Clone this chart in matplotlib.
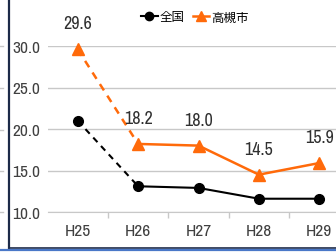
import matplotlib
matplotlib.use("Agg")
import matplotlib.pyplot as plt
from matplotlib.lines import Line2D

years = ["H25", "H26", "H27", "H28", "H29"]
zenkoku = [21.0, 13.1, 12.9, 11.6, 11.6]
takatsuki = [29.6, 18.2, 18.0, 14.5, 15.9]
yticks = [10.0, 15.0, 20.0, 25.0, 30.0]

plt.rcParams["font.family"] = ["Archivo Narrow", "DejaVu Sans", "Noto Sans CJK JP"]

ORANGE = "#ff6a0a"
W, H = 336, 253
fig = plt.figure(figsize=(W / 100, H / 100), dpi=100)
ax = fig.add_axes([47.5 / W, (H - 213) / H, 302 / W, 166 / H])

x = list(range(len(years)))
# dashed first segment, solid afterwards
ax.plot(x[:2], zenkoku[:2], color="black", lw=1.5, ls=(0, (3, 2.5)), clip_on=False)
ax.plot(x[1:], zenkoku[1:], color="black", lw=1.5, clip_on=False)
ax.plot(x, zenkoku, ls="none", marker="o", ms=7, color="black", clip_on=False, zorder=4)
ax.plot(x[:2], takatsuki[:2], color=ORANGE, lw=1.8, ls=(0, (3, 2.5)), clip_on=False)
ax.plot(x[1:], takatsuki[1:], color=ORANGE, lw=1.8, clip_on=False)
ax.plot(x, takatsuki, ls="none", marker="^", ms=9, color=ORANGE, clip_on=False, zorder=4)

for xi, v in zip(x, takatsuki):
    ax.annotate(f"{v:.1f}", (xi, v), xytext=(0, 13), textcoords="offset points",
                ha="center", va="bottom", fontsize=13, color="#303030")

ax.set_xlim(-0.5, 4.5)
ax.set_ylim(10, 30)
ax.set_yticks(yticks, [f"{t:.1f}" for t in yticks])
ax.set_xticks(x, years)
ax.set_xticks([0.5, 1.5, 2.5, 3.5], minor=True)
ax.tick_params(axis="y", length=0, pad=5, labelsize=12.5, labelcolor="#404040")
ax.tick_params(axis="x", which="major", length=0, pad=8, labelsize=12.5, labelcolor="#404040")
ax.tick_params(axis="x", which="minor", length=4, color="#c8c8c8", width=1)
ax.grid(axis="y", color="#c8c8c8", lw=1)
for s in ("top", "right", "left"):
    ax.spines[s].set_visible(False)
ax.spines["bottom"].set_color("#c8c8c8")
ax.set_axisbelow(True)

handles = [Line2D([], [], color="black", lw=1.5, marker="o", ms=6),
           Line2D([], [], color=ORANGE, lw=1.8, marker="^", ms=7)]
fig.legend(handles, ["全国", "高槻市"], loc="center left",
           bbox_to_anchor=(130 / W, 1 - 18 / H), ncol=2, frameon=False,
           handlelength=1.3, handletextpad=0.2, columnspacing=0.6,
           prop={"family": ["Noto Sans CJK JP", "DejaVu Sans"], "size": 9})

# screenshot frame remnants
fig.add_artist(Line2D([8.5 / W, 8.5 / W], [3 / H, 1], color="#1c2a48", lw=1.6))
fig.add_artist(Line2D([8.5 / W, 1], [4.5 / H, 4.5 / H], color="#1c2a48", lw=1.2))
fig.add_artist(Line2D([0, 1], [2.5 / H, 2.5 / H], color="#4a78c8", lw=1.6))
for yp in (47, 89, 131, 172, 213):
    fig.add_artist(Line2D([0, 3 / W], [1 - yp / H, 1 - yp / H], color="#c8c8c8", lw=1))

fig.savefig("out.png", dpi=100)
